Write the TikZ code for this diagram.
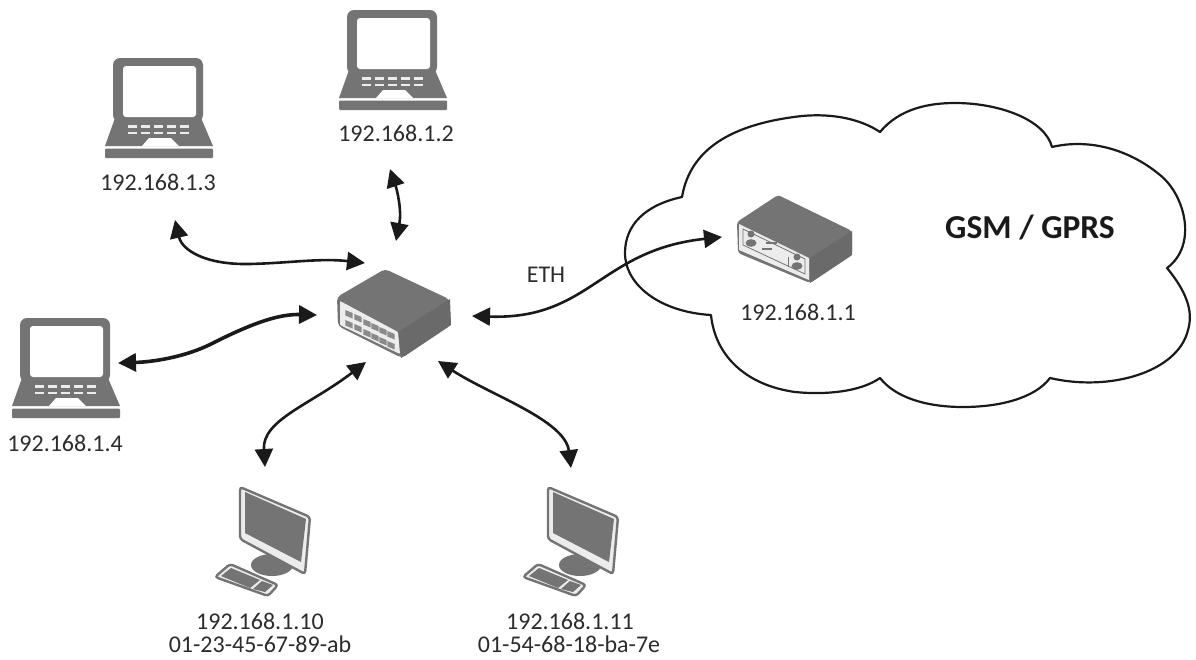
\documentclass[tikz,border=0pt]{standalone}
\usepackage{fontspec}
\setmainfont{Carlito}
\usetikzlibrary{arrows.meta}
\definecolor{dev}{HTML}{747474}
\definecolor{devd}{HTML}{6A6A6A}
\definecolor{devp}{HTML}{8A8A8A}
\definecolor{devl}{HTML}{ECECEC}
\definecolor{ink}{HTML}{1A1A1A}
\tikzset{
  lab/.style={font=\fontsize{24}{24}\selectfont,text=ink!92!white,inner sep=0pt,anchor=center},
  link/.style={draw=ink,line width=2.6pt,{Triangle[length=18pt,width=18pt]}-{Triangle[length=18pt,width=18pt]}},
  linkb/.style={link,line width=3.6pt},
  hold/.style={inner sep=0pt,minimum width=0pt,minimum height=0pt},
  laptopicon/.pic={
    \fill[dev,rounded corners=7pt] (0,0) rectangle (90,64);
    \fill[dev] (2,60) -- (88,60) -- (100,88) -- (-8,88) -- cycle;
    \fill[white,rounded corners=3pt] (10,8) rectangle (83,59);
    \foreach \i in {0,1,2,3,4}{
      \fill[devl] (15+\i*13,67) rectangle ++(9,2.8);
      \fill[devl] (15+\i*13,73.5) rectangle ++(9,2.8);
    }
    \fill[white] (29,88) -- (36,80) -- (58,80) -- (66,88) -- cycle;
    \fill[dev,rounded corners=1pt] (-8,90.5) rectangle (100,100);
  },
  desktopicon/.pic={
    \fill[dev] (32,78) ellipse (21 and 11);
    \fill[devl,draw=dev,line width=2.4pt,rounded corners=3pt] (0,0) -- (70,30) -- (65,87) -- (0,52) -- cycle;
    \fill[dev] (5,5) -- (66,32) -- (61,75) -- (5,46) -- cycle;
    \fill[devl,draw=dev,line width=2.4pt,rounded corners=3pt] (-25,90) -- (-10,77) -- (38,98) -- (28,109) -- cycle;
    \fill[dev] (-19,89) -- (-9,81) -- (20,93) -- (10,101) -- cycle;
    \fill[dev] (13,102) -- (22,94) -- (33,98) -- (25,105) -- cycle;
  },
  switchicon/.pic={
    \fill[dev,rounded corners=4pt] (385,269) -- (337,297) -- (338,326) -- (402,358) -- (451,325) -- (449,299) -- cycle;
    \fill[devd] (398,332) -- (450,299) -- (451,325) -- (401,358) -- cycle;
    \fill[devl,rounded corners=1pt] (340,301) -- (398,332) -- (400,354) -- (340,325) -- cycle;
    \foreach \i/\cx/\cy in {0/349/314,1/358/318,2/367/323,3/375/327,4/383/331,5/391/335}{
      \fill[devp] (\cx-3.6,\cy-4) -- (\cx+3.6,\cy-1) -- (\cx+3.6,\cy+4.5) -- (\cx-3.6,\cy+1.5) -- cycle;
      \fill[devp] (\cx-3.6,\cy+6) -- (\cx+3.6,\cy+9) -- (\cx+3.6,\cy+14.5) -- (\cx-3.6,\cy+11.5) -- cycle;
    }
  },
  routericon/.pic={
    \fill[dev,rounded corners=3pt] (778,195) -- (737,222) -- (738,253) -- (810,283) -- (852,255) -- (852,231) -- cycle;
    \fill[devd] (810,258) -- (852,231) -- (852,255) -- (810,283) -- cycle;
    \fill[devl] (739,224) -- (809,258) -- (809,280) -- (739,250) -- cycle;
    \draw[dev,line width=.8pt] (743,229) -- (805,259) -- (805,274) -- (743,245) -- cycle;
    \fill[dev] (751,234) circle (3.5);
    \fill[dev] (751,243) ellipse (5.5 and 3.8);
    \fill[dev] (797,257) circle (3.5);
    \fill[dev] (797,266) ellipse (5.5 and 3.8);
    \fill[dev] (766,242) rectangle ++(11,1.5);
    \fill[dev] (762,248) rectangle ++(10,1.5);
    \fill[dev] (788,257) rectangle ++(1.3,10);
  },
}
\begin{document}
\begin{tikzpicture}[x=1pt,y=-1pt]
\useasboundingbox (0,0) rectangle (1196,659);
\fill[white] (0,0) rectangle (1196,659);
% cloud
\draw[ink,line width=2.2pt,line join=round]
  (682,197) .. controls (690,150) and (730,124) .. (802,116)
  .. controls (835,113) and (862,120) .. (880,132)
  .. controls (900,108) and (930,103) .. (955,103)
  .. controls (1000,103) and (1045,120) .. (1052,147)
  .. controls (1090,138) and (1130,150) .. (1160,175)
  .. controls (1185,195) and (1198,245) .. (1167,268)
  .. controls (1185,290) and (1194,310) .. (1188,330)
  .. controls (1178,372) and (1110,392) .. (1050,378)
  .. controls (1035,398) and (1000,407) .. (963,407)
  .. controls (925,407) and (895,397) .. (880,378)
  .. controls (860,392) and (825,395) .. (795,392)
  .. controls (745,385) and (715,355) .. (711,315)
  .. controls (660,312) and (625,285) .. (625,253)
  .. controls (625,225) and (645,205) .. (682,197) -- cycle;
% devices
\node[hold] (lap2) at (392,60) {};
\node[hold] (lap3) at (158,108) {};
\node[hold] (lap4) at (65,368) {};
\node[hold] (sw) at (394,313) {};
\node[hold] (rt) at (795,238) {};
\node[hold] (pc1) at (260,540) {};
\node[hold] (pc2) at (570,540) {};
\pic at (347,10) {laptopicon};
\pic at (113,58) {laptopicon};
\pic at (20,318) {laptopicon};
\pic at (240,487) {desktopicon};
\pic at (548,487) {desktopicon};
\pic {switchicon};
\pic {routericon};
% labels
\node[lab] (l2) at (396,133) {192.168.1.2};
\node[lab] (l3) at (158,182) {192.168.1.3};
\node[lab] (l4) at (65,443) {192.168.1.4};
\node[lab] (l1) at (798,312) {192.168.1.1};
\node[lab] (eth) at (546,275) {ETH};
\node[lab] (l10) at (260,621) {192.168.1.10};
\node[lab] (m10) at (260,644) {01-23-45-67-89-ab};
\node[lab] (l11) at (570,621) {192.168.1.11};
\node[lab] (m11) at (569,644) {01-54-68-18-ba-7e};
\node[font=\bfseries\fontsize{33.5}{34}\selectfont,text=ink,inner sep=0pt] (gsm) at (1030,228) {GSM / GPRS};
% connector ends
\coordinate (a2) at (390,169);
\coordinate (s2) at (396,241);
\coordinate (a3) at (175,220);
\coordinate (s3) at (365,263);
\coordinate (a4) at (118,363);
\coordinate (s4) at (317,315);
\coordinate (a10) at (265,467);
\coordinate (s10) at (366,362);
\coordinate (a11) at (571,468);
\coordinate (s11) at (438,361);
\coordinate (ae) at (472,316);
\coordinate (re) at (722,237);
% connectors
\draw[link] (a2) .. controls (397,190) and (402,210) .. (s2);
\draw[link] (a3) .. controls (182,250) and (205,265) .. (250,264) .. controls (290,263) and (320,258) .. (s3);
\draw[linkb] (a4) .. controls (150,362) and (185,358) .. (215,342) .. controls (255,322) and (280,314) .. (s4);
\draw[link] (a10) .. controls (262,420) and (310,405) .. (s10);
\draw[link] (a11) .. controls (565,420) and (490,395) .. (s11);
\draw[link] (ae) .. controls (590,320) and (600,250) .. (re);
\end{tikzpicture}
\end{document}
